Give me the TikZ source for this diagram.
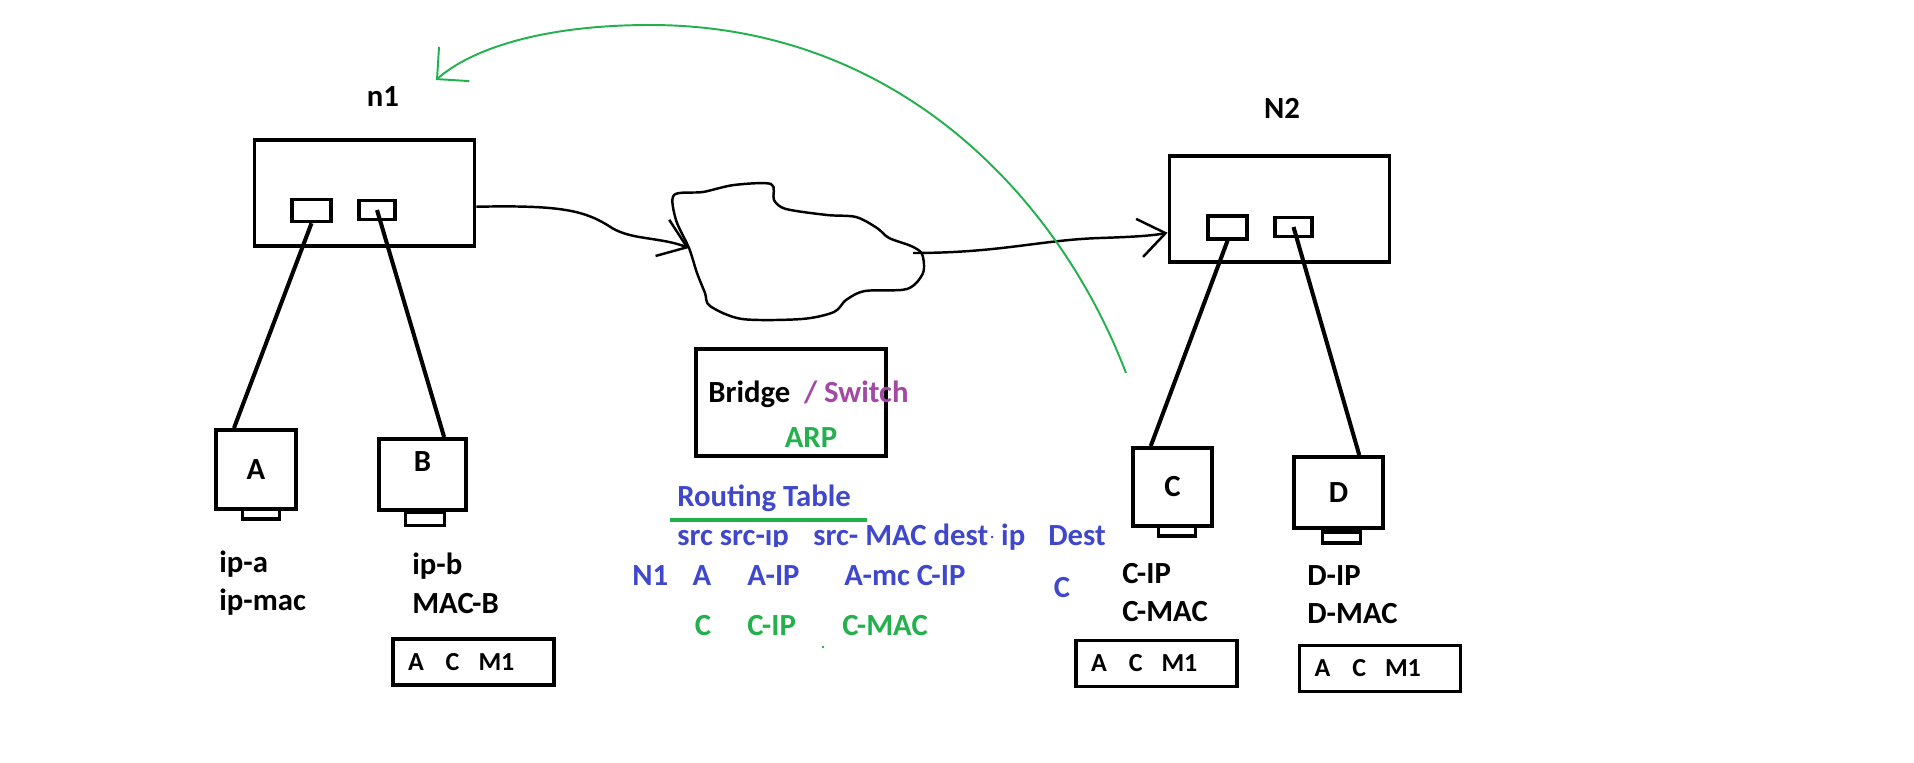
\documentclass[tikz,border=0pt]{standalone}
\usepackage{fontspec}
\setmainfont{Carlito}
\usepackage{tikz}
\usetikzlibrary{positioning,arrows.meta}
\definecolor{arpgreen}{RGB}{34,177,76}
\definecolor{switchpurple}{RGB}{163,73,164}
\definecolor{tableblue}{RGB}{63,72,204}

\begin{document}
\begin{tikzpicture}[x=0.02cm, y=-0.02cm,
    every node/.style={font=\bfseries\fontsize{17.5pt}{21pt}\selectfont, inner sep=0pt},
    hostbox/.style={rectangle, draw=black, line width=2.2pt, minimum width=4.4cm, minimum height=2.12cm},
    port/.style={rectangle, draw=black, line width=2pt},
    pc/.style={rectangle, draw=black, line width=2.2pt},
    stand/.style={rectangle, draw=black, line width=1.8pt, minimum width=0.76cm, minimum height=0.22cm},
    macbox/.style={rectangle, draw=black, line width=2.2pt, minimum height=0.92cm, text width=2.62cm, inner xsep=0.3cm, align=left, font=\bfseries\fontsize{14.8pt}{18pt}\selectfont},
    wire/.style={line width=2.3pt},
    cloudline/.style={line width=1.4pt},
    arrow/.style={-{Straight Barb[length=15pt,width=22pt]}, line width=1.4pt},
    back/.style={-{Straight Barb[length=13pt,width=26pt]}, line width=1.1pt, draw=arpgreen},
    txt/.style={anchor=base west}
  ]
  \useasboundingbox (0,0) rectangle (1914,763);

  % hosts
  \node[hostbox] (n1box) at (364.5,193) {};
  \node[port, minimum width=0.78cm, minimum height=0.44cm] (porta) at (311.5,210.5) {};
  \node[port, minimum width=0.72cm, minimum height=0.38cm] (portb) at (377,210) {};
  \node[anchor=base] (n1lab) at (383,107) {n1};

  \node[hostbox] (n2box) at (1279.5,209) {};
  \node[port, minimum width=0.78cm, minimum height=0.46cm] (portc) at (1227.5,227.5) {};
  \node[port, minimum width=0.74cm, minimum height=0.38cm] (portd) at (1293.5,227) {};
  \node[anchor=base] (n2lab) at (1282,119) {N2};

  % computers
  \node[pc, minimum width=1.6cm, minimum height=1.58cm] (pcA) at (256,469.5) {A};
  \node[stand, minimum width=0.74cm, minimum height=0.2cm] (standA) at (261,514) {};
  \node[pc, minimum width=1.74cm, minimum height=1.42cm, text depth=0.5cm] (pcB) at (422.5,474.5) {B};
  \node[stand, minimum width=0.78cm, minimum height=0.26cm] (standB) at (425,519) {};
  \node[pc, minimum width=1.58cm, minimum height=1.56cm] (pcC) at (1172.5,487) {C};
  \node[stand, minimum width=0.74cm, minimum height=0.2cm] (standC) at (1177,531) {};
  \node[pc, minimum width=1.78cm, minimum height=1.42cm] (pcD) at (1338.5,492.5) {D};
  \node[stand] (standD) at (1341.5,537.5) {};

  \draw[wire] (porta.south) -- (pcA.118);
  \draw[wire] (portb.center) -- (pcB.60);
  \draw[wire] (portc.south) -- (pcC.118);
  \draw[wire] (portd.center) -- (pcD.61);

  % addresses
  \node[txt] (ipa) at (219,572) {ip-a};
  \node[txt] (ipmac) at (219,610) {ip-mac};
  \node[txt] (ipb) at (412,574) {ip-b};
  \node[txt] (macb) at (412,613) {MAC-B};
  \node[txt] (cip) at (1122,583) {C-IP};
  \node[txt] (cmac) at (1122,621) {C-MAC};
  \node[txt] (dip) at (1307,585) {D-IP};
  \node[txt] (dmac) at (1307,623) {D-MAC};

  \node[macbox] (tabB) at (473.5,662) {A\hspace{0.44cm}C\hspace{0.38cm}M1};
  \node[macbox] (tabC) at (1156.5,663.5) {A\hspace{0.44cm}C\hspace{0.38cm}M1};
  \node[macbox] (tabD) at (1380,668.5) {A\hspace{0.44cm}C\hspace{0.38cm}M1};

  % bridge
  \node[rectangle, draw=black, line width=2.6pt, minimum width=3.8cm, minimum height=2.14cm] (bridge) at (791,402.5) {};
  \node[txt] (bridgetxt) at (708,403) {Bridge};
  \node[base right=0.26cm of bridgetxt, text=switchpurple] (switchtxt) {/ Switch};
  \node[anchor=base, text=arpgreen] (arptxt) at (811,448) {ARP};

  % routing table
  \node[txt, text=tableblue] (rtitle) at (677,506) {Routing Table};
  \coordinate (rlineL) at (670,520);
  \coordinate (rlineR) at (867,520);
  \draw[arpgreen, line width=1.8pt] (rlineL) -- (rlineR);
  \begin{scope}
    \clip (670,529.5) rectangle (800,546);
    \node[txt, text=tableblue] (hsrc) at (677,545) {src src-ip};
  \end{scope}
  \node[txt, text=tableblue] (hmac) at (813,545) {src- MAC dest\kern1pt\raisebox{0.2em}{\fontsize{9pt}{9pt}\selectfont.}\ ip};
  \node[txt, text=tableblue] (hdest) at (1048,545) {Dest};
  \node[txt, text=tableblue] (rown) at (632,585) {N1};
  \node[anchor=base, text=tableblue] (rowa) at (702,585) {A};
  \node[txt, text=tableblue] (rowaip) at (747,585) {A-IP};
  \node[txt, text=tableblue] (rowamc) at (844,585) {A-mc C-IP};
  \node[anchor=base, text=tableblue] (rowc) at (1062,597) {C};
  \node[anchor=base, text=arpgreen] (arpc) at (703,635) {C};
  \node[txt, text=arpgreen] (arpcip) at (747,635) {C-IP};
  \node[txt, text=arpgreen] (arpcmac) at (842,635) {C-MAC};
  \fill[arpgreen] (823,647) circle (0.8pt);

  % network cloud
  \draw[cloudline] plot[smooth cycle, tension=0.5] coordinates {
    (674,195) (703,192) (734,185) (771,184) (774,200) (786,209) (827,215)
    (856,217) (877,228) (889,238) (911,246) (922,254) (923,273) (907,289)
    (865,291) (846,300) (834,312) (802,319) (742,319) (710,306) (705,293)
    (697,273) (689,248) (676,220)};
  \coordinate (cloudin) at (689,248);
  \coordinate (cloudout) at (913,253);

  \draw[arrow] (n1box.-7) .. controls (560,205) and (585,210) .. (612,228)
    .. controls (632,240) and (660,237) .. (cloudin);
  \draw[arrow] (cloudout) .. controls (1000,253) and (1040,240) .. (1100,238)
    .. controls (1130,237) and (1150,236) .. (n2box.192);

  % reply path
  \coordinate (gstart) at (1126,373);
  \coordinate (gend) at (436,80);
  \draw[back] (gstart) .. controls (1060,200) and (900,25) .. (650,25)
    .. controls (540,25) and (470,50) .. (gend);
\end{tikzpicture}
\end{document}
